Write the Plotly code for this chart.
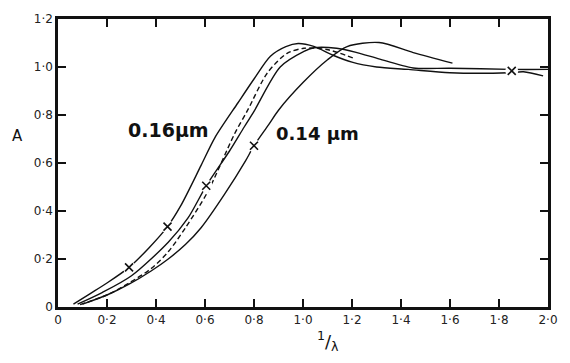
import plotly.graph_objects as go

# Curve data (x = 1/lambda, y = A)
a_x = [0.063, 0.13, 0.2, 0.29, 0.37, 0.447, 0.5, 0.584, 0.64, 0.734, 0.8, 0.867, 0.93, 0.98, 1.044, 1.12, 1.2, 1.3, 1.43, 1.6, 1.84, 1.9, 1.98]
a_y = [0.012, 0.055, 0.1, 0.165, 0.245, 0.335, 0.42, 0.59, 0.705, 0.85, 0.95, 1.045, 1.085, 1.098, 1.086, 1.05, 1.02, 1.0, 0.99, 0.976, 0.976, 0.98, 0.963]

b_x = [0.09, 0.2, 0.29, 0.38, 0.45, 0.52, 0.61, 0.72, 0.774, 0.855, 0.935, 1.004, 1.097, 1.206]
b_y = [0.01, 0.05, 0.1, 0.16, 0.23, 0.33, 0.478, 0.72, 0.82, 0.976, 1.057, 1.078, 1.073, 1.037]

c_x = [0.08, 0.18, 0.3, 0.45, 0.53, 0.605, 0.7, 0.76, 0.8, 0.907, 1.004, 1.044, 1.137, 1.22, 1.3, 1.45, 1.6, 1.85, 2.0]
c_y = [0.012, 0.06, 0.13, 0.27, 0.37, 0.505, 0.65, 0.75, 0.815, 1.0, 1.065, 1.08, 1.078, 1.06, 1.037, 0.996, 0.995, 0.99, 0.99]

d_x = [0.1, 0.2, 0.29, 0.38, 0.45, 0.52, 0.584, 0.68, 0.766, 0.8, 0.86, 0.9, 1.0, 1.1, 1.18, 1.31, 1.45, 1.61]
d_y = [0.012, 0.05, 0.095, 0.15, 0.2, 0.26, 0.33, 0.47, 0.61, 0.672, 0.76, 0.82, 0.935, 1.03, 1.085, 1.102, 1.06, 1.016]

mark_x = [0.29, 0.447, 0.605, 0.80, 1.852]
mark_y = [0.165, 0.335, 0.505, 0.672, 0.984]

x_ticks = [0, 0.2, 0.4, 0.6, 0.8, 1.0, 1.2, 1.4, 1.6, 1.8, 2.0]
x_tick_labels = ["0", "0·2", "0·4", "0·6", "0·8", "1·0", "1·2", "1·4", "1·6", "1·8", "2·0"]
y_ticks = [0, 0.2, 0.4, 0.6, 0.8, 1.0, 1.2]
y_tick_labels = ["0", "0·2", "0·4", "0·6", "0·8", "1·0", "1·2"]

line_style = dict(color="#111", width=1.4, shape="spline", smoothing=0.8)

fig = go.Figure()
fig.add_trace(go.Scatter(x=a_x, y=a_y, mode="lines", line=line_style, showlegend=False))
fig.add_trace(go.Scatter(x=b_x, y=b_y, mode="lines", line=dict(line_style, dash="5px,3px"), showlegend=False))
fig.add_trace(go.Scatter(x=c_x, y=c_y, mode="lines", line=line_style, showlegend=False))
fig.add_trace(go.Scatter(x=d_x, y=d_y, mode="lines", line=line_style, showlegend=False))
# white gaps behind the cross marks
fig.add_trace(go.Scatter(x=mark_x, y=mark_y, mode="markers",
                         marker=dict(symbol="circle", size=13, color="white", line=dict(width=0)),
                         showlegend=False))
fig.add_trace(go.Scatter(x=mark_x, y=mark_y, mode="markers",
                         marker=dict(symbol="x-thin-open", size=8, color="#111", line=dict(width=1.6, color="#111")),
                         showlegend=False))

fig.add_annotation(x=0.45, y=0.739, text="<b>0.16μm</b>", showarrow=False,
                   font=dict(family="DejaVu Sans", size=19, color="#111"))
fig.add_annotation(x=1.059, y=0.722, text="<b>0.14 μm</b>", showarrow=False,
                   font=dict(family="DejaVu Sans", size=18, color="#111"))
fig.add_annotation(xref="paper", yref="paper", x=-0.083, xanchor="center", y=0.595, text="A",
                   showarrow=False, font=dict(family="DejaVu Sans", size=15, color="#111"))
fig.add_annotation(xref="paper", yref="paper", x=0.552, y=-0.118, yanchor="middle",
                   text="<sup>1</sup>/<sub>λ</sub>", showarrow=False,
                   font=dict(family="DejaVu Sans", size=18, color="#111"))

axis_common = dict(showline=True, linecolor="#111", linewidth=2.5, mirror="ticks",
                   ticks="inside", ticklen=8, tickwidth=1.5, tickcolor="#111",
                   showgrid=False, zeroline=False,
                   tickfont=dict(family="DejaVu Sans", size=12, color="#222"))

fig.update_xaxes(range=[0, 2.0], tickvals=x_ticks, ticktext=x_tick_labels, **axis_common)
fig.update_yaxes(range=[0, 1.2], tickvals=y_ticks, ticktext=y_tick_labels, **axis_common)

fig.update_layout(width=570, height=363, margin=dict(l=58, r=17, t=13, b=56),
                  plot_bgcolor="white", paper_bgcolor="white")

fig.write_html("out.html", config={"displayModeBar": False},
               post_script="document.body.style.margin='0';document.body.style.overflow='hidden';")
